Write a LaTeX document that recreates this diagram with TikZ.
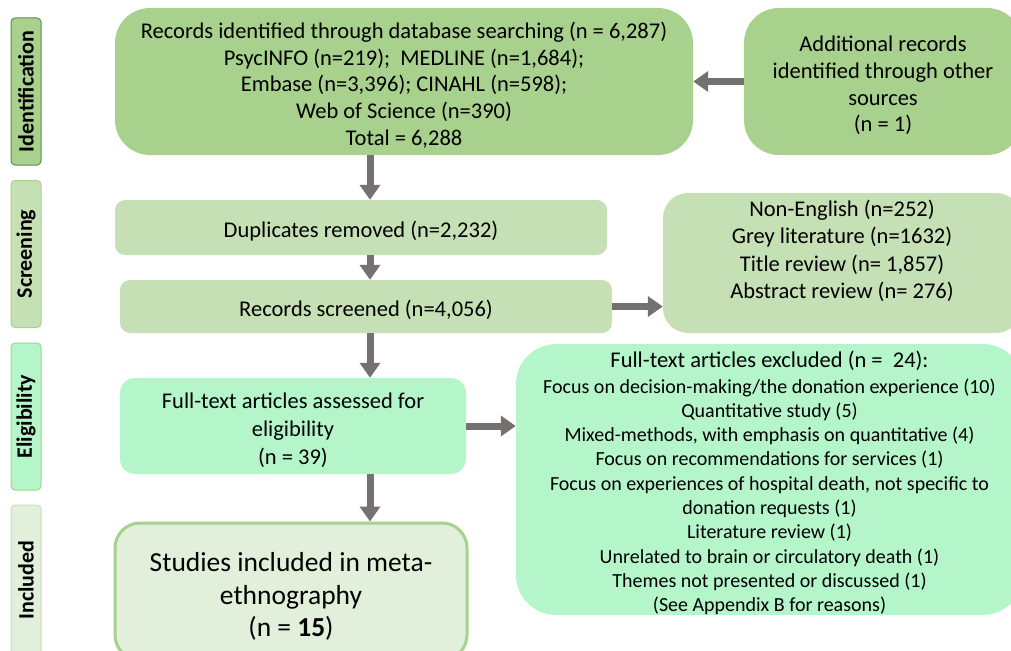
\documentclass[tikz,border=0pt]{standalone}
\usepackage{fontspec}
\setmainfont{Carlito}
\usepackage{tikz}
\usetikzlibrary{arrows.meta,positioning}
\definecolor{darkgreen}{RGB}{169,209,142}
\definecolor{midgreen}{RGB}{197,224,180}
\definecolor{mint}{RGB}{180,246,202}
\definecolor{palegreen}{RGB}{226,239,218}
\definecolor{edgegreen}{RGB}{95,140,60}
\definecolor{arrowgray}{RGB}{118,113,113}
\newcommand*{\boxstrut}{\rule{0pt}{1.05em}}% pushes box text a little down
\tikzset{%
  stage/.style={draw, rectangle, rounded corners=4pt, rotate=90, line width=1pt,
    minimum width=147pt, minimum height=30pt, inner sep=0pt,
    font=\fontsize{22}{24}\selectfont\bfseries},% phase label on the left
  box/.style={rectangle, align=center, inner sep=0pt,
    font=\fontsize{22.5}{26.8}\selectfont},% flow chart box
  flow/.style={line width=7pt, arrowgray, -{Triangle[length=15pt,width=20pt]}}% grey arrow
}

\begin{document}
\begin{tikzpicture}[x=1pt, y=-1pt]
\useasboundingbox (0,0) rectangle (1011,650);

\node[stage, fill=darkgreen, draw=edgegreen] (idlabel) at (26, 91.5) {Identification};
\node[stage, fill=midgreen, draw=darkgreen] (sclabel) at (26, 254) {Screening};
\node[stage, fill=mint, draw=darkgreen] (ellabel) at (26, 416.5) {Eligibility};
\node[stage, fill=palegreen, draw=midgreen, minimum width=150pt] (inlabel) at (26, 580) {Included};

\node[box, fill=darkgreen, rounded corners=35pt, minimum width=578pt, minimum height=147pt] (records) at (404, 81.5)
  {\boxstrut Records identified through database searching (n = 6,287)\\ PsycINFO (n=219);\ \ MEDLINE (n=1,684);\\
   Embase (n=3,396); CINAHL (n=598);\\ Web of Science (n=390)\\ Total = 6,288};
\node[box, fill=darkgreen, rounded corners=35pt, minimum width=278pt, minimum height=147pt] (extra) at (883, 81.5)
  {\boxstrut Additional records\\ identified through other\\ sources\\ (n = 1)};

\node[box, fill=midgreen, rounded corners=10pt, minimum width=492pt, minimum height=55pt] (dupl) at (361, 227.5)
  {\boxstrut Duplicates removed (n=2,232)};
\node[box, fill=midgreen, rounded corners=10pt, minimum width=492pt, minimum height=53pt] (screened) at (366, 306.5)
  {\boxstrut Records screened (n=4,056)};
\node[box, fill=midgreen, rounded corners=25pt, minimum width=358pt, minimum height=140pt,
  font=\fontsize{22.5}{27.3}\selectfont] (nonen) at (842, 263)
  {Non-English (n=252)\\ Grey literature (n=1632)\\ Title review (n= 1,857)\\ Abstract review (n= 276)\\ \mbox{}};

\node[box, fill=mint, rounded corners=15pt, minimum width=346pt, minimum height=96pt,
  font=\fontsize{22.5}{28}\selectfont] (fulltext) at (293, 426)
  {\boxstrut Full-text articles assessed for\\ eligibility\\ (n = 39)};
\node[box, fill=mint, rounded corners=40pt, minimum width=507pt, minimum height=265pt,
  font=\fontsize{20}{24.3}\selectfont] (excl) at (769.5, 479.5)
  {{\fontsize{22.5}{27}\selectfont\boxstrut Full-text articles excluded (n =\ \ 24):}\\[1pt]
   Focus on decision-making/the donation experience (10)\\
   Quantitative study (5)\\ Mixed-methods, with emphasis on quantitative (4)\\
   Focus on recommendations for services (1)\\ Focus on experiences of hospital death, not specific to\\
   donation requests (1)\\ Literature review (1)\\ Unrelated to brain or circulatory death (1)\\
   Themes not presented or discussed (1)\\ (See Appendix B for reasons)};

\node[box, fill=palegreen, draw=darkgreen, line width=3pt, rounded corners=25pt, minimum width=352pt,
  minimum height=137pt, font=\fontsize{27.5}{32.5}\selectfont] (incl) at (291, 591.5)
  {\boxstrut Studies included in meta-\\ ethnography\\ (n = \textbf{15})};

\coordinate (spine) at (370, 0);

\draw (records.south -| spine) edge[flow] (dupl.north -| spine);
\draw (dupl.south -| spine) edge[flow] (screened.north -| spine);
\draw (screened.south -| spine) edge[flow] (fulltext.north -| spine);
\draw (fulltext.south -| spine) edge[flow] (incl.north -| spine);
\draw (extra) edge[flow] (records);
\draw (screened.east) edge[flow] (screened.east -| nonen.west);
\draw (fulltext.east) edge[flow] (fulltext.east -| excl.west);

\end{tikzpicture}
\end{document}
